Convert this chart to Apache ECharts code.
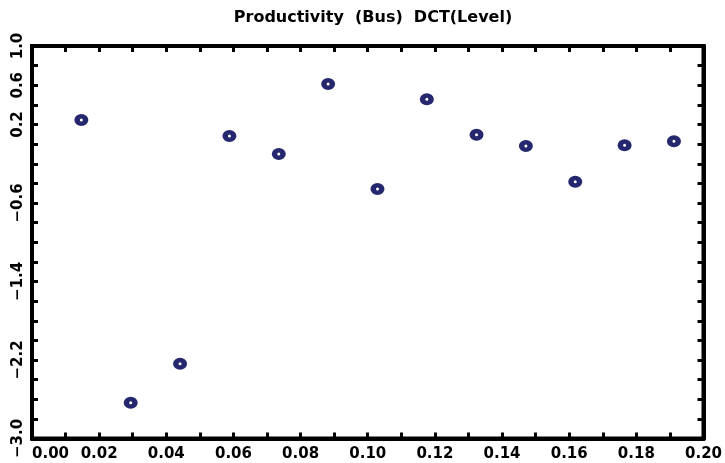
<!DOCTYPE html>
<html><head><meta charset="utf-8">
<script src="https://cdn.jsdelivr.net/npm/echarts@6/dist/echarts.min.js"></script>
<style>html,body{margin:0;padding:0;background:#fff}#c{width:725px;height:463px}</style>
</head><body><div id="c"></div>
<script>
const titleText = 'Productivity  (Bus)  DCT(Level)';
const xValues = [0.0147, 0.0294, 0.0441, 0.0588, 0.0735, 0.0882, 0.1029, 0.1176, 0.1324, 0.1471, 0.1618, 0.1765, 0.1912];
const yValues = [0.246, -2.636, -2.239, 0.083, -0.101, 0.613, -0.458, 0.457, 0.096, -0.019, -0.383, -0.012, 0.029];
const xTickLabels = ['0.00','0.02','0.04','0.06','0.08','0.10','0.12','0.14','0.16','0.18','0.20'];
const yTickLabels = ['1.0','0.6','0.2','-0.6','-1.4','-2.2','-3.0'];

const FONT = 'DejaVu Sans';
const NAVY = '#25286e';
const points = xValues.map((x, i) => [x, yValues[i]]);

function xFmt(v) { const s = v.toFixed(2); return xTickLabels.indexOf(s) >= 0 ? s : ''; }
function yFmt(v) { const s = v.toFixed(1); return yTickLabels.indexOf(s) >= 0 ? s.replace('-', '\u2212') : ''; }

const tick = { show: true, inside: true, length: 6, lineStyle: { color: '#000', width: 3 } };
const axisLine = { show: true, onZero: false, lineStyle: { color: '#000', width: 4 } };

const chart = echarts.init(document.getElementById('c'));
chart.setOption({
  animation: false,
  backgroundColor: '#fff',
  title: {
    text: titleText, left: 368, top: 5, textAlign: 'center',
    textStyle: { fontFamily: FONT, fontWeight: 'bold', fontSize: 16, color: '#000' }
  },
  grid: { left: 32, right: 20.5, top: 46, bottom: 24.5, show: true, borderWidth: 4, borderColor: '#000', backgroundColor: 'transparent' },
  xAxis: [
    { type: 'value', position: 'bottom', min: 0, max: 0.2, interval: 0.01,
      axisLine: axisLine, axisTick: tick, splitLine: { show: false },
      axisLabel: { formatter: xFmt, margin: 8, fontFamily: FONT, fontWeight: 'bold', fontSize: 15, color: '#000', alignMinLabel: 'left', showMinLabel: true, showMaxLabel: true } },
    { type: 'value', position: 'top', min: 0, max: 0.2, interval: 0.01,
      axisLine: axisLine, axisTick: tick, splitLine: { show: false }, axisLabel: { show: false } }
  ],
  yAxis: [
    { type: 'value', position: 'left', min: -3, max: 1, interval: 0.2,
      axisLine: axisLine, axisTick: tick, splitLine: { show: false },
      axisLabel: { formatter: yFmt, rotate: 90, margin: 6, fontFamily: FONT, fontWeight: 'bold', fontSize: 15, color: '#000', showMinLabel: true, showMaxLabel: true } },
    { type: 'value', position: 'right', min: -3, max: 1, interval: 0.2,
      axisLine: axisLine, axisTick: tick, splitLine: { show: false }, axisLabel: { show: false } }
  ],
  series: [
    { type: 'scatter', data: points, symbol: 'circle', symbolSize: [14, 12], itemStyle: { color: NAVY, opacity: 1 }, z: 3 },
    { type: 'scatter', data: points, symbol: 'emptyCircle', symbolSize: 5, itemStyle: { color: NAVY, borderColor: '#d4d6ee', borderWidth: 1, opacity: 1 }, z: 4, silent: true }
  ]
});
</script></body></html>
